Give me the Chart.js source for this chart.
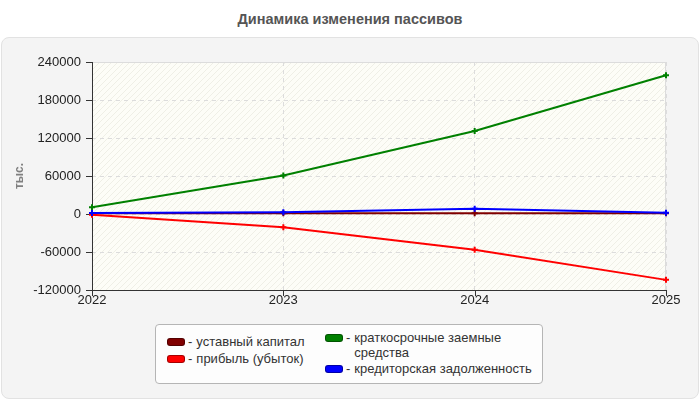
<!DOCTYPE html>
<html>
<head>
<meta charset="utf-8">
<script src="https://cdn.jsdelivr.net/npm/chart.js@4"></script>
<style>
  html, body { margin: 0; padding: 0; background: #ffffff; }
  body { width: 700px; height: 400px; position: relative; overflow: hidden; font-family: "Liberation Sans", Arial, sans-serif; }
  #panel { position: absolute; left: 1px; top: 37px; width: 696px; height: 360px; background: #f4f4f4; border: 1px solid #e2e2e2; border-radius: 8px; }
  #title { position: absolute; left: 0; top: 11px; width: 700px; text-align: center; font-weight: bold; font-size: 14.5px; color: #555; }
  canvas { position: absolute; left: 0; top: 0; }
  #legend { position: absolute; left: 155px; top: 324px; width: 386px; height: 58px; background: #fdfdfd; border: 1px solid #b5b5b5; border-radius: 4px; font-size: 13px; color: #333; }
  .item { position: absolute; display: flex; align-items: flex-start; line-height: 15px; white-space: nowrap; }
  .sw { width: 16px; height: 6px; border-radius: 3px; margin-top: 4px; margin-right: 3px; border: 1px solid rgba(0,0,0,0.35); }
  .dash { margin-right: 4px; }
</style>
</head>
<body>
<div id="panel"></div>
<div id="title">Динамика изменения пассивов</div>
<canvas id="c" width="700" height="400"></canvas>
<div id="legend"></div>
<script>
const years = ['2022', '2023', '2024', '2025'];
const yTicks = [-120000, -60000, 0, 60000, 120000, 180000, 240000];
const seriesNames = ['уставный капитал', 'прибыль (убыток)', 'краткосрочные заемные средства', 'кредиторская задолженность'];
const seriesColors = ['#800000', '#ff0000', '#008000', '#0000ff'];
const capital = [1000, 1000, 1000, 1000];
const profit = [-1000, -21000, -56500, -104000];
const shortLoans = [10500, 60700, 131000, 219000];
const payables = [1500, 2800, 8200, 1900];
const seriesValues = [capital, profit, shortLoans, payables];
const drawOrder = [3, 2, 1, 0];

function makePattern(ctx) {
  const p = document.createElement('canvas');
  p.width = 6; p.height = 6;
  const g = p.getContext('2d');
  g.fillStyle = '#fdfdf7';
  g.fillRect(0, 0, 6, 6);
  g.strokeStyle = '#efefe6';
  g.lineWidth = 1;
  g.beginPath();
  g.moveTo(0, 6); g.lineTo(6, 0);
  g.moveTo(-1, 1); g.lineTo(1, -1);
  g.moveTo(5, 7); g.lineTo(7, 5);
  g.stroke();
  return ctx.createPattern(p, 'repeat');
}

const frame = {
  id: 'frame',
  beforeDraw(chart) {
    const { ctx, chartArea: a } = chart;
    ctx.save();
    ctx.fillStyle = makePattern(ctx);
    ctx.fillRect(a.left, a.top, a.right - a.left, a.bottom - a.top);
    ctx.restore();
  },
  beforeDatasetsDraw(chart) {
    const { ctx, chartArea: a, scales } = chart;
    ctx.save();
    ctx.strokeStyle = '#dcdcdc';
    ctx.lineWidth = 1;
    ctx.beginPath();
    ctx.moveTo(a.left, a.top + 0.5); ctx.lineTo(a.right, a.top + 0.5);
    ctx.moveTo(a.right - 0.5, a.top); ctx.lineTo(a.right - 0.5, a.bottom);
    ctx.stroke();
    ctx.strokeStyle = '#333';
    ctx.beginPath();
    ctx.moveTo(a.left + 0.5, a.top); ctx.lineTo(a.left + 0.5, a.bottom);
    ctx.moveTo(a.left, a.bottom + 0.5); ctx.lineTo(a.right, a.bottom + 0.5);
    scales.y.ticks.forEach(t => {
      const y = Math.round(scales.y.getPixelForValue(t.value)) + 0.5;
      ctx.moveTo(a.left - 6, y); ctx.lineTo(a.left, y);
    });
    years.forEach((_, i) => {
      const x = Math.round(scales.x.getPixelForValue(i)) + 0.5;
      ctx.moveTo(x, a.bottom); ctx.lineTo(x, a.bottom + 6);
    });
    ctx.stroke();
    ctx.restore();
  }
};

new Chart(document.getElementById('c'), {
  type: 'line',
  data: {
    labels: years,
    datasets: seriesNames.map((n, i) => ({
      label: n,
      data: seriesValues[i],
      borderColor: seriesColors[i],
      backgroundColor: seriesColors[i],
      borderWidth: 2,
      pointStyle: 'cross',
      pointRadius: 3,
      pointBorderWidth: 2,
      tension: 0,
      order: drawOrder[i]
    }))
  },
  options: {
    responsive: false,
    animation: false,
    devicePixelRatio: 1,
    layout: { padding: { left: 0, right: 34, top: 62, bottom: 90 } },
    plugins: { legend: { display: false }, title: { display: false }, tooltip: { enabled: false } },
    scales: {
      x: {
        type: 'category',
        offset: false,
        grid: { color: '#dcdcdc', drawTicks: false, lineWidth: 1 },
        border: { display: false, dash: [4, 4] },
        ticks: { color: '#222', font: { family: 'Liberation Sans', size: 13 }, padding: 3, maxRotation: 0, autoSkip: false },
        afterFit(s) { s.height = 20; }
      },
      y: {
        min: -120000, max: 240000,
        afterBuildTicks(s) { s.ticks = yTicks.map(v => ({ value: v })); },
        grid: { color: '#dcdcdc', drawTicks: false, lineWidth: 1 },
        border: { display: false, dash: [4, 4] },
        ticks: { color: '#222', font: { family: 'Liberation Sans', size: 13 }, padding: 11, callback: v => String(v) },
        title: { display: true, text: 'тыс.', color: '#808080', font: { family: 'Liberation Sans', size: 12, weight: 'bold' }, padding: { top: 12, bottom: 0 } },
        afterFit(s) { s.width = 92; }
      }
    }
  },
  plugins: [frame]
});

const legend = document.getElementById('legend');
const legendPos = [
  { left: 11, top: 9 },
  { left: 11, top: 26 },
  { left: 169, top: 5 },
  { left: 169, top: 36 }
];
const legendText = [seriesNames[0], seriesNames[1], 'краткосрочные заемные<br>средства', seriesNames[3]];
legendPos.forEach((p, i) => {
  const d = document.createElement('div');
  d.className = 'item';
  d.style.left = p.left + 'px';
  d.style.top = p.top + 'px';
  d.innerHTML = '<span class="sw" style="background:' + seriesColors[i] + '"></span><span class="dash">-</span><span>' + legendText[i] + '</span>';
  legend.appendChild(d);
});
</script>
</body>
</html>
